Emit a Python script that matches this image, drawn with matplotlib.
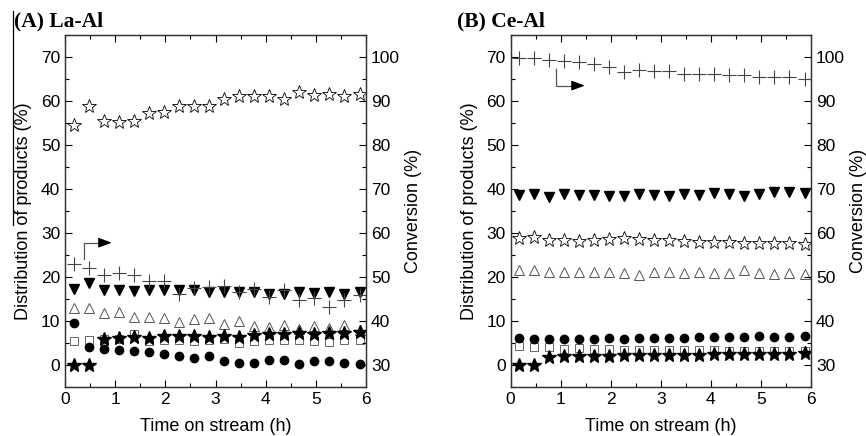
import matplotlib
matplotlib.use("Agg")
import matplotlib.pyplot as plt
from matplotlib.lines import Line2D
from matplotlib.ticker import MultipleLocator

plt.rcParams['font.family'] = ['Liberation Sans', 'DejaVu Sans']

# time on stream (h)
time_h = [0.17, 0.47, 0.77, 1.07, 1.37, 1.67, 1.97, 2.27, 2.57, 2.87,
          3.17, 3.47, 3.77, 4.07, 4.37, 4.67, 4.97, 5.27, 5.57, 5.87]

# (A) La-Al
la_conv = [53.0, 52.0, 50.5, 51.0, 50.4, 49.0, 49.2, 46.1, 47.5, 47.7,
           48.0, 46.7, 47.2, 45.4, 47.1, 44.8, 45.2, 43.1, 44.8, 46.0]
la_open_star = [54.6, 58.8, 55.4, 55.2, 55.4, 57.3, 57.4, 58.8, 58.8, 58.8,
                60.5, 61.2, 61.1, 61.2, 60.5, 62.0, 61.4, 61.6, 61.1, 61.6]
la_down_tri = [17.2, 18.6, 17.1, 17.1, 16.9, 17.1, 17.1, 17.1, 17.1, 16.7,
               16.7, 16.5, 16.7, 16.2, 16.2, 16.5, 16.3, 16.5, 16.2, 16.6]
la_up_tri = [12.9, 12.9, 11.9, 12.0, 10.9, 10.9, 10.6, 9.7, 10.5, 10.6,
             9.3, 9.9, 8.9, 8.6, 9.1, 8.2, 8.9, 8.4, 9.1, 8.0]
la_circle = [9.5, 4.0, 3.7, 3.4, 3.2, 3.0, 2.5, 2.0, 1.5, 2.1,
             1.0, 0.4, 0.5, 1.1, 1.1, 0.2, 0.8, 0.8, 0.4, 0.2]
la_square = [5.4, 5.7, 6.0, 6.0, 7.1, 5.4, 5.7, 5.6, 5.5, 5.6,
             5.8, 5.1, 5.4, 5.6, 5.6, 5.6, 5.4, 5.3, 5.6, 5.7]
la_filled_star = [0.0, 0.0, 6.0, 6.2, 6.4, 6.2, 6.6, 6.5, 6.5, 6.4,
                  6.5, 6.4, 6.8, 7.0, 7.0, 7.2, 7.0, 7.3, 7.3, 7.6]

# (B) Ce-Al
ce_conv = [99.8, 99.8, 99.4, 99.2, 98.9, 98.3, 97.7, 96.5, 97.1, 96.9,
           96.9, 96.2, 96.2, 96.2, 96.0, 95.8, 95.4, 95.4, 95.4, 95.0]
ce_down_tri = [38.6, 38.8, 38.2, 38.8, 38.7, 38.6, 38.4, 38.4, 38.9, 38.7,
               38.4, 38.8, 38.7, 39.1, 38.8, 38.5, 38.9, 39.3, 39.3, 39.2]
ce_open_star = [28.9, 29.1, 28.5, 28.3, 28.1, 28.5, 28.6, 28.9, 28.6, 28.3,
                28.3, 28.1, 28.0, 28.0, 27.9, 27.7, 27.7, 27.7, 27.7, 27.6]
ce_up_tri = [21.5, 21.6, 21.2, 21.1, 21.2, 21.2, 21.1, 20.9, 20.4, 21.1,
             21.1, 21.0, 21.1, 20.9, 20.9, 21.5, 20.9, 20.7, 20.9, 20.7]
ce_circle = [6.2, 5.9, 6.0, 5.8, 6.0, 5.8, 6.1, 5.8, 6.1, 6.1,
             6.2, 6.1, 6.3, 6.3, 6.3, 6.3, 6.5, 6.4, 6.3, 6.6]
ce_square = [4.4, 4.1, 4.0, 3.7, 3.8, 3.6, 3.6, 3.5, 3.5, 3.3,
             3.3, 3.3, 3.3, 3.3, 3.2, 3.2, 3.2, 3.1, 3.1, 3.1]
ce_filled_star = [0.0, 0.0, 1.9, 2.0, 2.0, 2.1, 2.1, 2.2, 2.2, 2.3,
                  2.3, 2.3, 2.3, 2.4, 2.5, 2.6, 2.6, 2.6, 2.6, 2.7]

fig = plt.figure(figsize=(8.66, 4.36), dpi=100)


def panel(rect, title, title_x, conv, series, arrow):
    ax = fig.add_axes(rect)
    ax2 = ax.twinx()
    for vals, kw in series:
        ax.plot(time_h, vals, linestyle='none', **kw)
    ax2.plot(time_h, conv, linestyle='none', marker='+', color='#444444',
             markersize=10, markeredgewidth=0.8)

    ax.set_xlim(0, 6)
    ax.set_ylim(-5, 75)
    ax2.set_ylim(25, 105)
    ax.xaxis.set_major_locator(MultipleLocator(1))
    ax.xaxis.set_minor_locator(MultipleLocator(0.5))
    ax.yaxis.set_minor_locator(MultipleLocator(5))
    ax2.yaxis.set_minor_locator(MultipleLocator(5))
    ax.set_yticks([0, 10, 20, 30, 40, 50, 60, 70])
    ax2.set_yticks([30, 40, 50, 60, 70, 80, 90, 100])

    ax.tick_params(axis='x', which='both', direction='in', top=True, labelsize=12.5)
    ax.tick_params(axis='y', which='both', direction='in', labelsize=12.5)
    ax2.tick_params(axis='y', which='both', direction='in', labelsize=12.5)
    for a in (ax, ax2):
        a.tick_params(which='major', length=5, width=0.8)
        a.tick_params(which='minor', length=3, width=0.8)

    ax.set_xlabel('Time on stream (h)', fontsize=13, labelpad=8)
    ax.set_ylabel('Distribution of products (%)', fontsize=13, labelpad=6)
    ax2.set_ylabel('Conversion (%)', fontsize=13, labelpad=4)
    for s in list(ax.spines.values()) + list(ax2.spines.values()):
        s.set_color('#333333')
        s.set_linewidth(0.9)

    # arrow pointing to the conversion axis
    (x0, y0, y1, x1) = arrow
    ax.plot([x0, x0, x1 - 0.2], [y0, y1, y1], color='#555555', lw=0.9)
    ax.annotate('', xy=(x1, y1), xytext=(x1 - 0.25, y1),
                arrowprops=dict(arrowstyle='-|>,head_length=0.8,head_width=0.3',
                                color='black', lw=0.9, shrinkA=0, shrinkB=0))

    fig.text(title_x, 0.94, title, fontsize=15.5, fontweight='bold',
             family='Liberation Serif', va='baseline', ha='left')
    return ax


la_series = [
    (la_open_star, dict(marker='*', mfc='white', mec='black', ms=10, mew=0.6)),
    (la_down_tri, dict(marker='v', color='black', ms=7)),
    (la_up_tri, dict(marker='^', mfc='white', mec='#555555', ms=7, mew=0.7)),
    (la_square, dict(marker='s', mfc='white', mec='#666666', ms=5.5, mew=0.7)),
    (la_filled_star, dict(marker='*', color='black', ms=10)),
    (la_circle, dict(marker='o', color='black', ms=6)),
]
ce_series = [
    (ce_down_tri, dict(marker='v', color='black', ms=7)),
    (ce_open_star, dict(marker='*', mfc='white', mec='black', ms=10, mew=0.6)),
    (ce_up_tri, dict(marker='^', mfc='white', mec='#555555', ms=7, mew=0.7)),
    (ce_square, dict(marker='s', mfc='white', mec='#666666', ms=5.5, mew=0.7)),
    (ce_filled_star, dict(marker='*', color='black', ms=10)),
    (ce_circle, dict(marker='o', color='black', ms=6)),
]

panel([0.0751, 0.1124, 0.3476, 0.8073], '(A) La-Al', 0.016, la_conv, la_series,
      (0.385, 24.2, 27.8, 0.93))
panel([0.5897, 0.1124, 0.3468, 0.8073], '(B) Ce-Al', 0.528, ce_conv, ce_series,
      (0.91, 67.3, 63.5, 1.48))

# scan artifact line at the left edge of panel A
fig.add_artist(Line2D([0.0155, 0.0155], [0.975, 0.485], color='black', lw=0.9))

fig.savefig('out.png', dpi=100)
